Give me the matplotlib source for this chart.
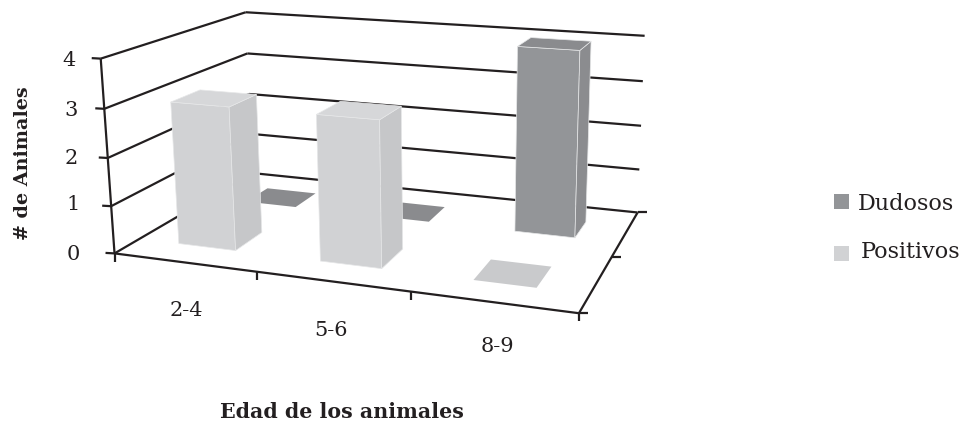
import matplotlib
matplotlib.use('Agg')
import matplotlib.pyplot as plt
from matplotlib.patches import Polygon, Rectangle
import numpy as np

categories = ['2-4', '5-6', '8-9']
series_names = ['Positivos', 'Dudosos']
positivos = [3, 3, 0]
dudosos = [0, 0, 4]
value_ticks = [0, 1, 2, 3, 4]

# world (category, depth, value) -> picture pixel control points
ctrl = [
    ((0, 0, 0), (112, 254)), ((3, 0, 0), (579, 312)), ((3, 2, 0), (637, 212)), ((0, 2, 0), (255, 173)),
    ((0, 0, 4), (103, 59)), ((0, 2, 4), (243, 13)), ((3, 2, 4), (646, 35)),
    ((0, 0, 2), (108, 157)), ((0, 2, 2), (249, 93)), ((3, 2, 2), (640, 127)),
    ((1, 0, 0), (257, 272)), ((2, 0, 0), (411, 292)), ((3, 1, 0), (612, 258)),
]

A = []
for (X, Y, Z), (u, v) in ctrl:
    A.append([X, Y, Z, 1, 0, 0, 0, 0, -u*X, -u*Y, -u*Z, -u])
    A.append([0, 0, 0, 0, X, Y, Z, 1, -v*X, -v*Y, -v*Z, -v])
P = np.linalg.svd(np.array(A, float))[2][-1].reshape(3, 4)


def pr(x, y, z):
    h = P @ np.array([x, y, z, 1.0])
    return h[0] / h[2], h[1] / h[2]


fig = plt.figure(figsize=(9.63, 4.23), dpi=100)
ax = fig.add_axes([0, 0, 1, 1])
ax.set_xlim(0, 963)
ax.set_ylim(423, 0)
ax.axis('off')

C_LINE = '#231F20'
FONT = 'DejaVu Serif'
nc = len(categories)


def seg(p, q, lw=1.6):
    ax.plot([p[0], q[0]], [p[1], q[1]], color=C_LINE, lw=lw, solid_capstyle='butt', zorder=1)


# walls
for v in value_ticks:
    a = pr(0, 0, v)
    b = pr(0, 2, v)
    c = pr(nc, 2, v)
    seg(a, b)
    seg(b, c)
    seg((a[0] - 9, a[1] - 0.5), a)
seg(pr(0, 0, 0), pr(0, 0, 4))
# floor
seg(pr(0, 0, 0), pr(nc, 0, 0))
seg(pr(nc, 0, 0), pr(nc, 2, 0))
f0 = pr(0, 0, 0)
seg(f0, (f0[0], f0[1] + 9))
for i in range(1, nc + 1):
    p = pr(i, 0, 0)
    seg(p, (p[0], p[1] + 8))
for d in [0, 1, 2]:
    p = pr(nc, d, 0)
    seg(p, (p[0] + 9, p[1]))


def box(i, row, val, front, side, top, flat, depth):
    x0, x1 = i + 0.29, i + 0.70
    y0, y1 = row + depth[0], row + depth[1]
    faces = []
    if val > 0:
        faces.append(([pr(x0, y0, 0), pr(x1, y0, 0), pr(x1, y0, val), pr(x0, y0, val)], front))
        faces.append(([pr(x1, y0, 0), pr(x1, y1, 0), pr(x1, y1, val), pr(x1, y0, val)], side))
        faces.append(([pr(x0, y0, val), pr(x1, y0, val), pr(x1, y1, val), pr(x0, y1, val)], top))
    else:
        ax.add_patch(Polygon([pr(x0, y0, 0), pr(x1 - 0.02, y0, 0), pr(x1 - 0.02, y1, 0), pr(x0, y1, 0)],
                             closed=True, facecolor=flat, edgecolor='none', zorder=2))
    for pts, col in faces:
        ax.add_patch(Polygon(pts, closed=True, facecolor=col, edgecolor='#E6E7E8', lw=0.5, zorder=3))


for i, v in enumerate(dudosos):
    box(i, 1, v, '#939598', '#8B8C8F', '#8A8B8E', '#8A8B8E', (0.30, 0.66))
for i, v in enumerate(positivos):
    box(i, 0, v, '#D1D2D4', '#C6C7C9', '#D6D7D9', '#C9CACC', (0.31, 0.70))

# labels
for v, (x, y) in zip(value_ticks, [(73, 254), (73, 205), (71, 158), (71, 110), (69, 60)]):
    ax.text(x, y, str(v), family=FONT, fontsize=15, color=C_LINE, ha='center', va='center')
for c, (x, y) in zip(categories, [(186, 310), (331, 331), (497, 347)]):
    ax.text(x, y, c, family=FONT, fontsize=15, color=C_LINE, ha='center', va='center')
ax.text(23, 163, '# de Animales', family=FONT, fontsize=13.8, fontweight='bold', color=C_LINE,
        rotation=90, ha='center', va='center')
ax.text(342, 412, 'Edad de los animales', family=FONT, fontsize=14.8, fontweight='bold', color=C_LINE,
        ha='center', va='center')

# legend
ax.add_patch(Rectangle((834, 194), 15, 15, facecolor='#939598', edgecolor='none'))
ax.add_patch(Rectangle((834, 246), 15, 15, facecolor='#D1D2D4', edgecolor='none'))
ax.text(858, 204, series_names[1], family=FONT, fontsize=16, color=C_LINE, ha='left', va='center')
ax.text(861, 252, series_names[0], family=FONT, fontsize=16, color=C_LINE, ha='left', va='center')

fig.savefig('out.png', dpi=100, facecolor='white')
